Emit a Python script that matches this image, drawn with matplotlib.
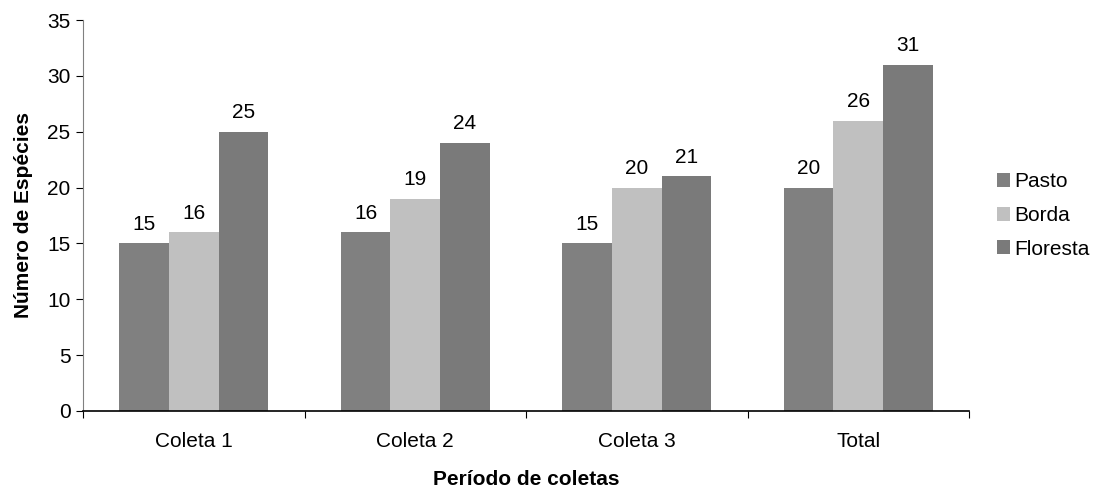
import numpy as np
import matplotlib.pyplot as plt

plt.rcParams['font.family'] = ['Liberation Sans', 'DejaVu Sans']

categories = ['Coleta 1', 'Coleta 2', 'Coleta 3', 'Total']
series = ['Pasto', 'Borda', 'Floresta']
pasto = [15, 16, 15, 20]
borda = [16, 19, 20, 26]
floresta = [25, 24, 21, 31]

colors = ['#808080', '#c0c0c0', '#7a7a7a']

fig = plt.figure(figsize=(10.99, 4.92), dpi=100)
ax = fig.add_axes([83/1099, 1-411/492, (969-83)/1099, (411-20)/492])

x = np.arange(len(categories))
w = 0.224
for i, (name, vals) in enumerate(zip(series, [pasto, borda, floresta])):
    bars = ax.bar(x + (i-1)*w, vals, w, color=colors[i], label=name, zorder=2)
    for b, v in zip(bars, vals):
        ax.annotate(str(v), (b.get_x() + b.get_width()/2, v), xytext=(0, 7),
                    textcoords='offset points', ha='center', va='bottom', fontsize=15)

ax.set_xlim(-0.5, 3.5)
ax.set_ylim(0, 35)
ax.set_yticks(range(0, 36, 5))
ax.set_xticks(np.arange(-0.5, 4, 1))
ax.set_xticklabels([])
ax.set_xticks(x, minor=True)
ax.set_xticklabels(categories, minor=True, fontsize=15)
ax.tick_params(axis='x', which='minor', length=0, pad=15)
ax.tick_params(axis='x', which='major', length=5, width=0.8, direction='out')
ax.tick_params(axis='y', length=5, width=0.8, labelsize=15, pad=4)

for s in ['top', 'right']:
    ax.spines[s].set_visible(False)
ax.spines['left'].set_color('#808080')
ax.spines['bottom'].set_linewidth(1.2)

ax.set_xlabel('Período de coletas', fontsize=15, fontweight='bold', labelpad=14)
ax.set_ylabel('Número de Espécies', fontsize=15, fontweight='bold', labelpad=10)

ax.legend(loc='center left', bbox_to_anchor=(1.01, 0.5), frameon=False, fontsize=15,
          handlelength=0.65, handleheight=0.65, handletextpad=0.2, labelspacing=0.7)

fig.savefig('out.png', dpi=100)
